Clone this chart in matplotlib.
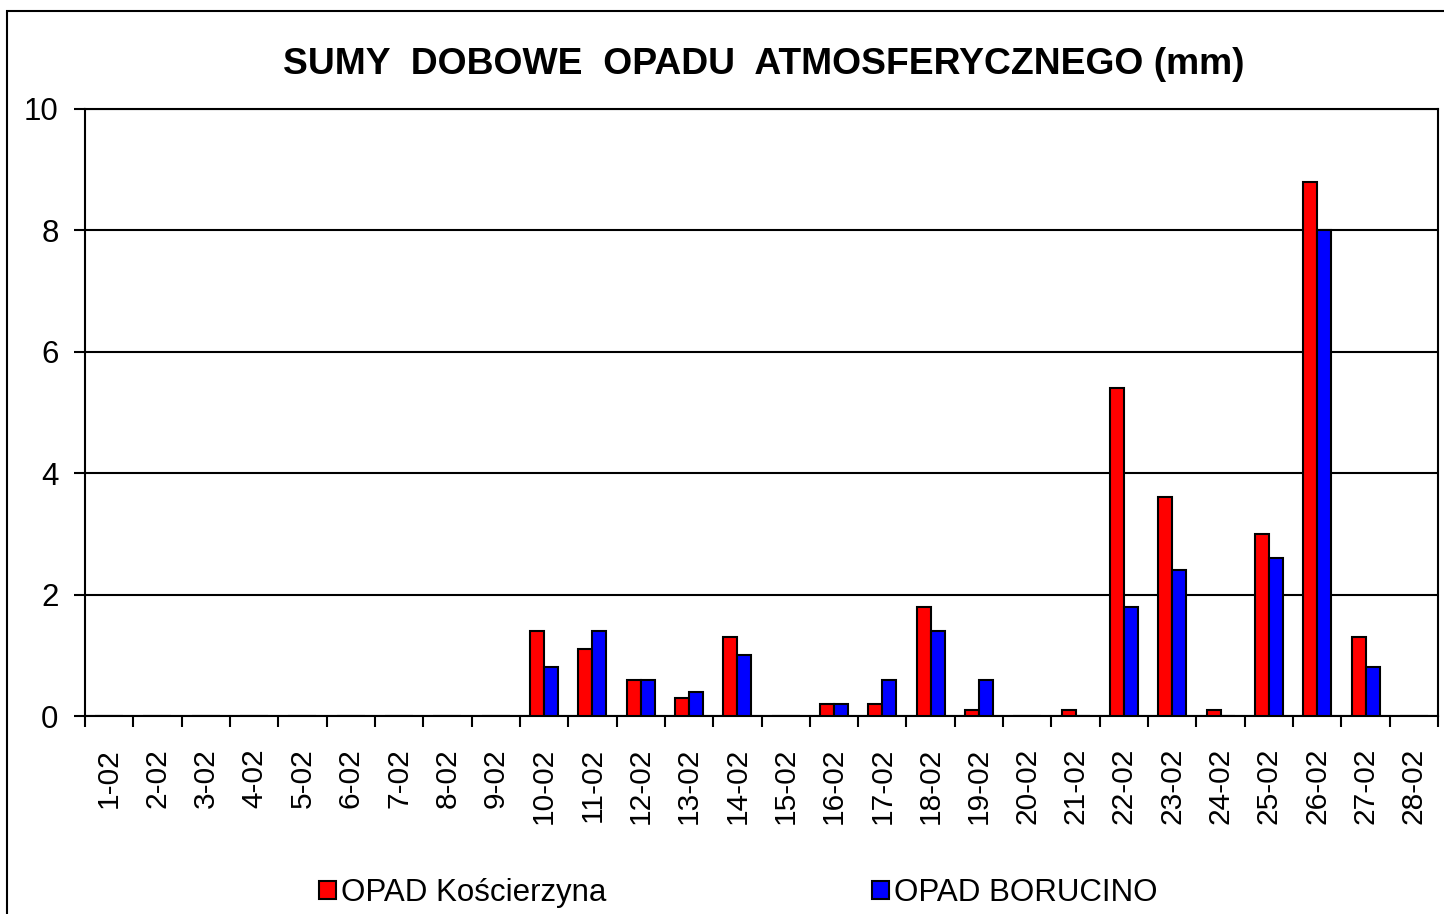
import matplotlib.pyplot as plt
import matplotlib.patches as mpatches
import numpy as np

plt.rcParams['font.family'] = ['Liberation Sans', 'DejaVu Sans']

# Daily precipitation totals, February
days = [f'{d}-02' for d in range(1, 29)]
koscierzyna = [0, 0, 0, 0, 0, 0, 0, 0, 0, 1.4, 1.1, 0.6, 0.3, 1.3, 0,
               0.2, 0.2, 1.8, 0.1, 0, 0.1, 5.4, 3.6, 0.1, 3.0, 8.8, 1.3, 0]
borucino = [0, 0, 0, 0, 0, 0, 0, 0, 0, 0.8, 1.4, 0.6, 0.4, 1.0, 0,
            0.2, 0.6, 1.4, 0.6, 0, 0, 1.8, 2.4, 0, 2.6, 8.0, 0.8, 0]
yticks = [0, 2, 4, 6, 8, 10]

fig = plt.figure(figsize=(14.44, 9.14), dpi=100)
ax = fig.add_axes([85/1444, 1 - 716/914, (1438 - 85)/1444, (716 - 109)/914])

# outer chart border
fig.patches.append(mpatches.Rectangle((7/1444, -0.05), 1.2, 1 - 11/914 + 0.05,
                                      transform=fig.transFigure, fill=False,
                                      edgecolor='black', linewidth=1.5))

x = np.arange(len(days))
w = 0.29
ax.bar(x - w/2, koscierzyna, w, color='#ff0000', edgecolor='black', linewidth=1.5,
       label='OPAD Kościerzyna', zorder=3)
ax.bar(x + w/2, borucino, w, color='#0000ff', edgecolor='black', linewidth=1.5,
       label='OPAD BORUCINO', zorder=3)

ax.set_xlim(-0.5, len(days) - 0.5)
ax.set_ylim(0, 10)
ax.set_yticks(yticks)
ax.set_yticklabels([str(v) for v in yticks], fontsize=22.5)
ax.tick_params(axis='y', direction='out', length=8, width=1.5, pad=11)
ax.yaxis.grid(True, color='black', linewidth=1.5, zorder=0)

ax.set_xticks(x)
ax.set_xticklabels(days, rotation=90, fontsize=21.5)
ax.set_xticks(np.arange(-0.5, len(days)), minor=True)
ax.tick_params(axis='x', which='major', length=0, pad=23)
ax.tick_params(axis='x', which='minor', direction='out', length=8, width=1.5)

for s in ax.spines.values():
    s.set_linewidth(1.5)
    s.set_color('black')

fig.text(764/1444, 1 - 64/914, 'SUMY  DOBOWE  OPADU  ATMOSFERYCZNEGO (mm)',
         ha='center', va='center', fontsize=26.8, fontweight='bold')

handles = [mpatches.Patch(facecolor='#ff0000', edgecolor='black', linewidth=1.5),
           mpatches.Patch(facecolor='#0000ff', edgecolor='black', linewidth=1.5)]
fig.legend(handles, ['OPAD Kościerzyna', 'OPAD BORUCINO'], ncol=2,
           loc='center', bbox_to_anchor=(738/1444, 1 - 893/914), frameon=False,
           fontsize=22.5, handlelength=0.55, handleheight=0.55, handletextpad=0.15,
           columnspacing=8.5, borderpad=0)

fig.savefig('out.png', dpi=100)
